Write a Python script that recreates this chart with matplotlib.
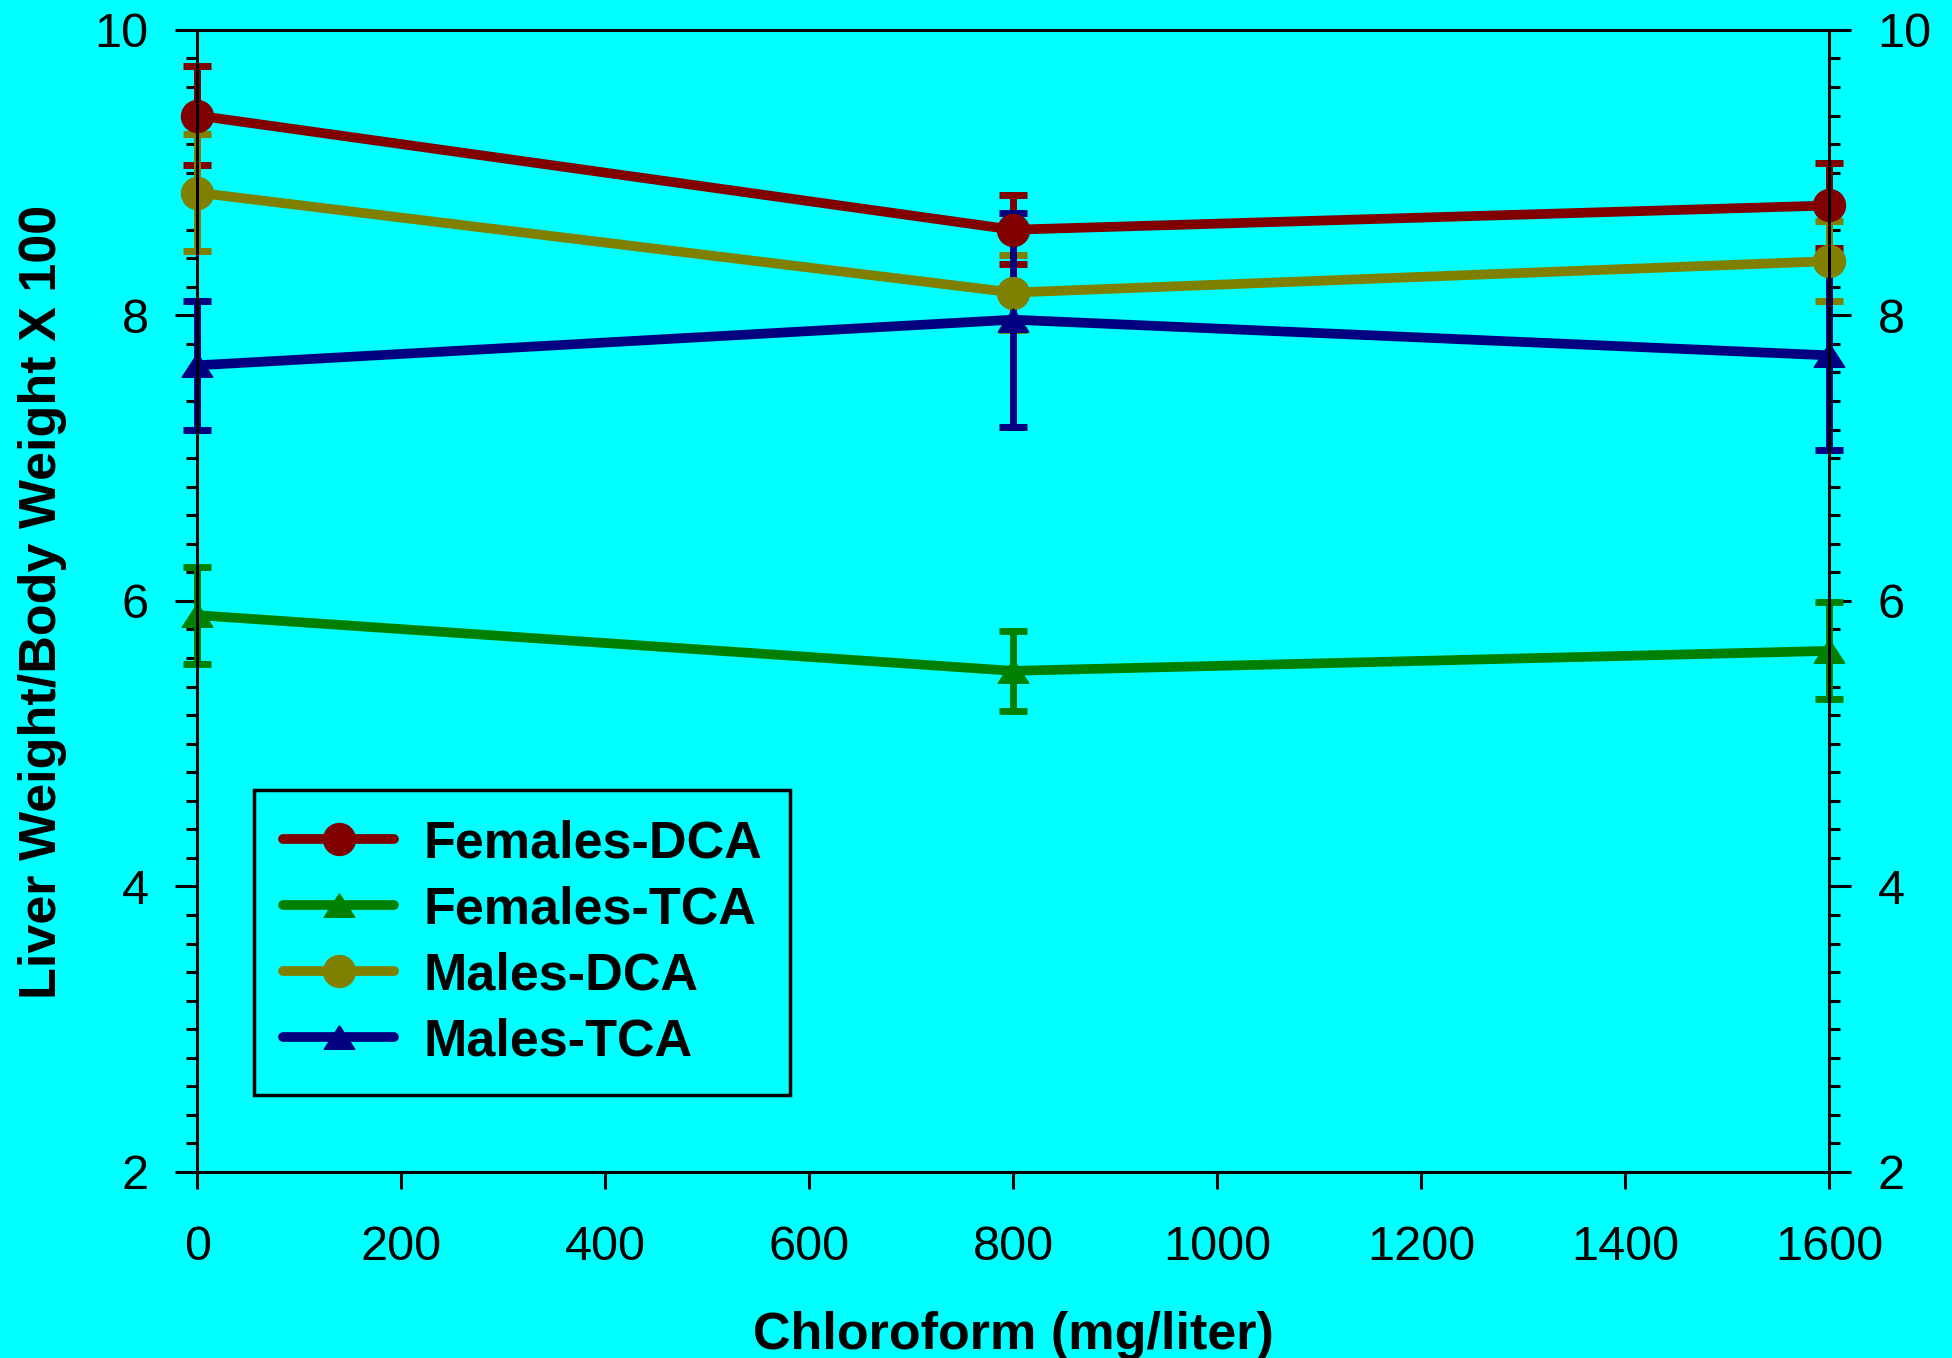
import matplotlib
matplotlib.use("Agg")
import matplotlib.pyplot as plt
from matplotlib.ticker import MultipleLocator
from matplotlib.lines import Line2D

plt.rcParams['font.family'] = ['Liberation Sans', 'DejaVu Sans']

# chloroform dose (mg/liter)
dose = [0, 800, 1600]

series_names = ["Females-DCA", "Females-TCA", "Males-DCA", "Males-TCA"]
means = {
    "Females-DCA": [9.40, 8.60, 8.77],
    "Females-TCA": [5.90, 5.51, 5.65],
    "Males-DCA": [8.86, 8.16, 8.38],
    "Males-TCA": [7.65, 7.97, 7.72],
}
errs = {
    "Females-DCA": [0.35, 0.24, 0.30],
    "Females-TCA": [0.34, 0.28, 0.34],
    "Males-DCA": [0.41, 0.26, 0.28],
    "Males-TCA": [0.45, 0.75, 0.66],
}
colors = {
    "Females-DCA": "#800000",
    "Females-TCA": "#008000",
    "Males-DCA": "#808000",
    "Males-TCA": "#000080",
}
# flat triangle like the original
tri = [(0, 0.77), (-1, -0.77), (1, -0.77), (0, 0.77)]
markers = {
    "Females-DCA": "o",
    "Females-TCA": tri,
    "Males-DCA": "o",
    "Males-TCA": tri,
}

bg = "#00FFFF"
fig = plt.figure(figsize=(19.52, 13.58), dpi=100, facecolor=bg)
ax = fig.add_axes([0.101, 0.137, 0.836, 0.841], facecolor=bg)

handles = []
for name in series_names:
    c = colors[name]
    ms = 23 if markers[name] == "o" else 22
    line, caps, bars = ax.errorbar(dose, means[name], yerr=errs[name],
                                   color=c, lw=7, marker=markers[name],
                                   ms=ms, mec=c, mfc=c, elinewidth=5,
                                   capsize=10, capthick=5,
                                   solid_capstyle='round', clip_on=False)
    for b in bars:
        b.set_capstyle('round')
    handles.append(Line2D([], [], color=c, lw=7, marker=markers[name],
                          ms=ms, mec=c, mfc=c, solid_capstyle='round',
                          label=name))

ax.set_xlim(0, 1600)
ax.set_ylim(2, 10)
ax.xaxis.set_major_locator(MultipleLocator(200))
ax.yaxis.set_major_locator(MultipleLocator(2))
ax.yaxis.set_minor_locator(MultipleLocator(0.2))

for s in ax.spines.values():
    s.set_linewidth(2.2)

ax.tick_params(axis='x', which='major', direction='out', length=12, width=2.2,
               labelsize=35, pad=26, top=False)
ax.tick_params(axis='y', which='major', direction='out', length=16, width=2.2,
               labelsize=35, pad=19, left=True, right=True,
               labelleft=True, labelright=True)
ax.tick_params(axis='y', which='minor', direction='out', length=8, width=2.2,
               left=True, right=True)

fig.text(0.519, 0.0165, "Chloroform (mg/liter)", ha='center', va='center',
         fontsize=37.5, fontweight='bold')
fig.text(0.022, 0.557, "Liver Weight/Body Weight X 100", ha='center',
         va='center', rotation=90, fontsize=37.5, fontweight='bold')

leg = ax.legend(handles=handles, loc='upper left',
                bbox_to_anchor=(0.035, 0.334),
                borderaxespad=0, fancybox=False, framealpha=1,
                facecolor=bg, edgecolor='black', handlelength=2.14,
                handletextpad=0.55, labelspacing=0.33, borderpad=0.55,
                prop={'size': 37.5, 'weight': 'bold'})
leg.get_frame().set_linewidth(2.5)

fig.savefig("out.png", dpi=100, facecolor=bg)
